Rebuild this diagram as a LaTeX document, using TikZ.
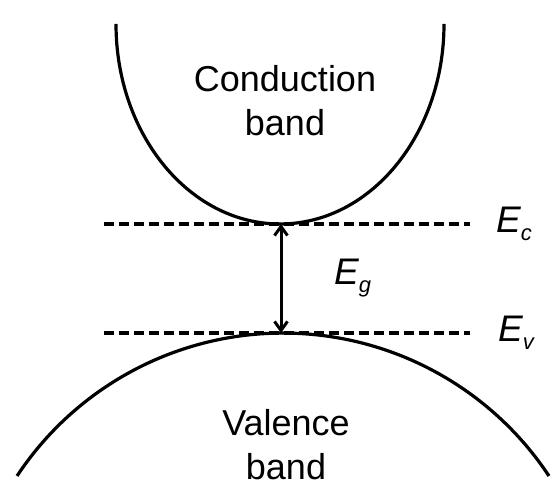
\documentclass[tikz,border=0pt]{standalone}
\usepackage{fontspec}
\setmainfont{Liberation Sans}
\usetikzlibrary{arrows.meta}
\tikzset{
  band/.style={line width=3.2pt},
  level/.style={line width=3.2pt, dash pattern=on 10pt off 5pt},
  gaparrow/.style={line width=3pt, {Straight Barb[length=9pt,width=13pt]}-{Straight Barb[length=9pt,width=13pt]}},
  bandtext/.style={inner sep=0pt, align=center, font=\fontsize{36}{44}\selectfont},
  elabel/.style={inner sep=0pt, anchor=base west, font=\fontsize{37}{40}\selectfont\itshape}
}
\newcommand{\esub}[1]{\raisebox{-8pt}{\fontsize{22}{22}\selectfont #1}}
\begin{document}
\begin{tikzpicture}[x=1pt,y=1pt]
\useasboundingbox (0,0) rectangle (555,486);
% conduction band
\draw[band] (116,462) arc[start angle=180, end angle=360, x radius=164, y radius=200];
% valence band
\draw[band] (17,10) arc[start angle=146.5, end angle=33.5, radius=319];
% levels
\coordinate (ecL) at (104,262);
\coordinate (ecR) at (470,262);
\coordinate (evL) at (104,153);
\coordinate (evR) at (470,153);
\coordinate (ctop) at (281,262);
\coordinate (vtop) at (281,153);
\draw[level] (ecL) -- (ecR);
\draw[level] (evL) -- (evR);
\draw[gaparrow] (ctop) -- (vtop);
% labels
\node[bandtext] (cb) at (285,385) {Conduction\\band};
\node[bandtext] (vb) at (286,41) {Valence\\band};
\node[elabel] (ec) at (496,253) {E\esub{c}};
\node[elabel] (ev) at (498,144) {E\esub{v}};
\node[elabel] (eg) at (334,201) {E\esub{g}};
\end{tikzpicture}
\end{document}
